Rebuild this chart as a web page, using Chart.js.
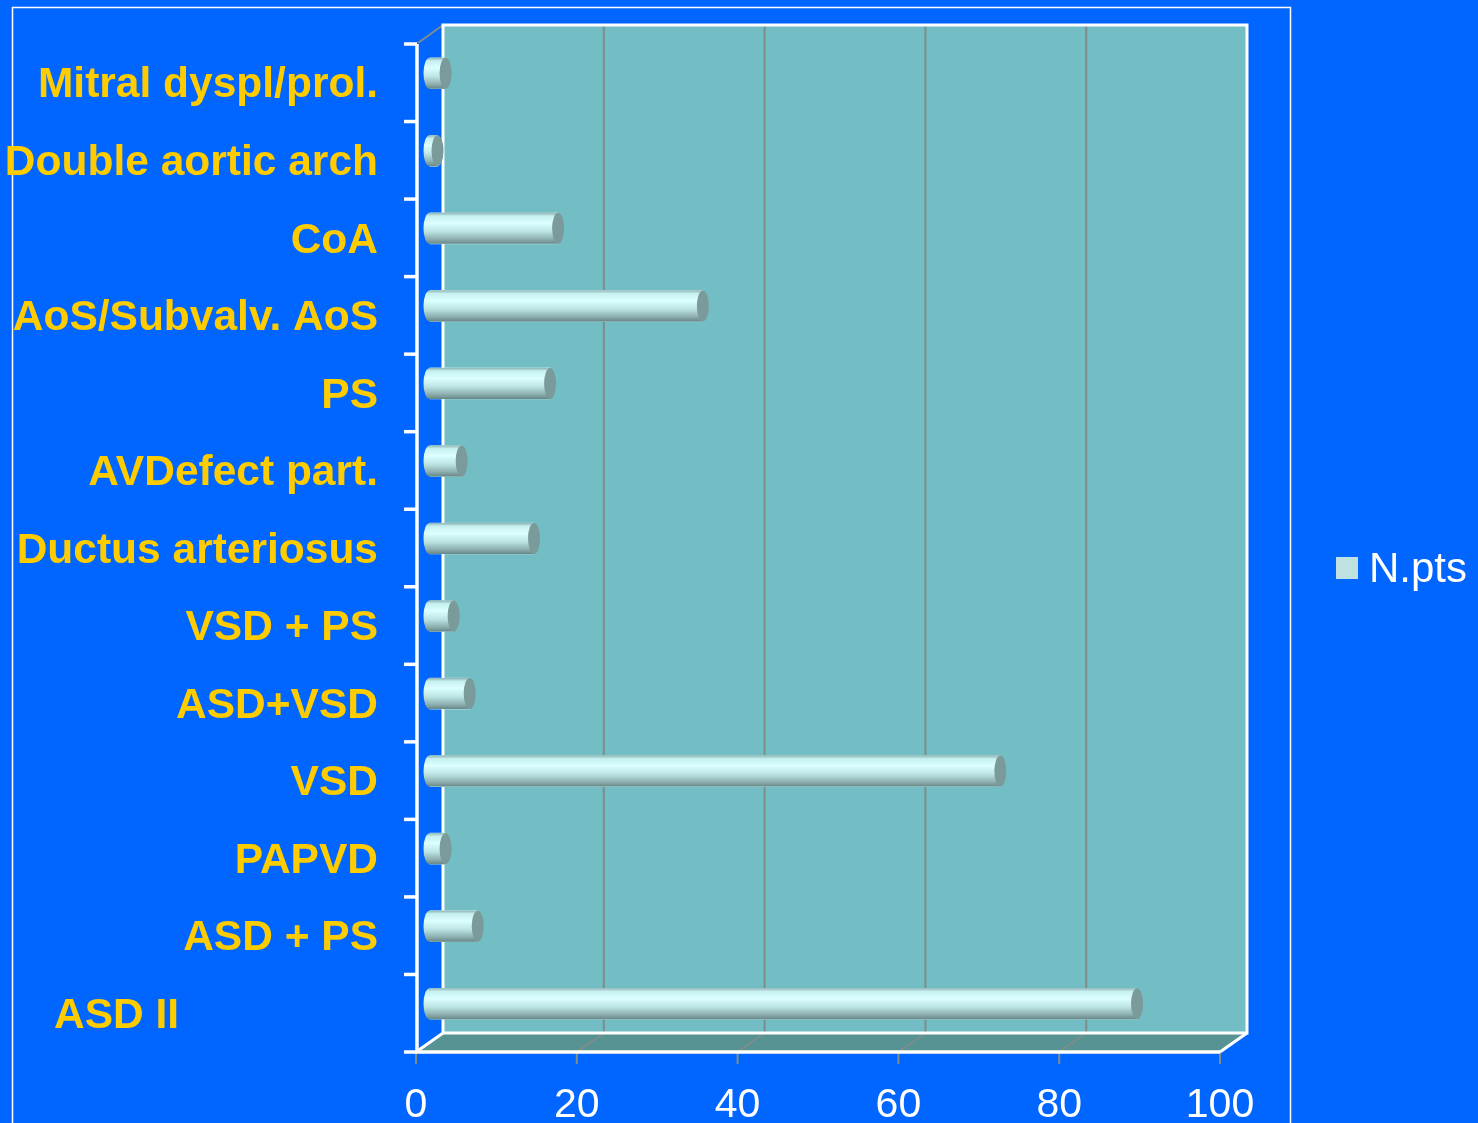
<!DOCTYPE html>
<html>
<head>
<meta charset="utf-8">
<title>N.pts by diagnosis</title>
<script src="https://cdn.jsdelivr.net/npm/chart.js@4/dist/chart.umd.min.js"></script>
<style>
  html, body { margin: 0; padding: 0; background: #0066FF; }
  canvas { display: block; }
</style>
</head>
<body>
<canvas id="c" width="1478" height="1123"></canvas>
<script>
// Diagnoses, top to bottom
const categories = [
  'Mitral dyspl/prol.',
  'Double aortic arch',
  'CoA',
  'AoS/Subvalv. AoS',
  'PS',
  'AVDefect part.',
  'Ductus arteriosus',
  'VSD + PS',
  'ASD+VSD',
  'VSD',
  'PAPVD',
  'ASD + PS',
  'ASD II'
];
// Number of patients per diagnosis
const nPts = [2, 1, 16, 34, 15, 4, 13, 3, 5, 71, 2, 6, 88];
const seriesName = 'N.pts';
const xTicks = [0, 20, 40, 60, 80, 100];

// Half of the 3D depth: front plane sits at (-DX, +DY) from the bars, back wall at (+DX, -DY)
const DX = 13.5, DY = 9.5;
const FONT = '"Liberation Sans", Arial, sans-serif';

function drawCylinder(ctx, x0, x1, yc, h) {
  const top = yc - h / 2, r = h / 2, rx = 6;
  const g = ctx.createLinearGradient(0, top, 0, top + h);
  g.addColorStop(0, '#8FB3B3');
  g.addColorStop(0.1, '#C6F0F0');
  g.addColorStop(0.33, '#DCFFFF');
  g.addColorStop(0.6, '#BDE4E4');
  g.addColorStop(0.85, '#8DAFAF');
  g.addColorStop(1, '#678787');
  ctx.beginPath();
  ctx.moveTo(x1, top);
  ctx.lineTo(x0, top);
  ctx.ellipse(x0, yc, rx, r, 0, -Math.PI / 2, Math.PI / 2, true);
  ctx.lineTo(x1, top + h);
  ctx.closePath();
  ctx.fillStyle = g;
  ctx.fill();
  // end face
  ctx.beginPath();
  ctx.ellipse(x1, yc, rx, r, 0, 0, Math.PI * 2);
  ctx.fillStyle = '#7B9B9B';
  ctx.fill();
}

const chart3d = {
  id: 'chart3d',
  beforeDraw(chart) {
    const ctx = chart.ctx;
    const xs = chart.scales.x, a = chart.chartArea;
    ctx.save();
    ctx.fillStyle = '#0066FF';
    ctx.fillRect(0, 0, chart.width, chart.height);
    // slide frame
    ctx.strokeStyle = '#FFFFFF';
    ctx.lineWidth = 1.5;
    ctx.strokeRect(12.5, 7.5, 1278, 1200);

    const x0 = xs.getPixelForValue(xs.min), x1 = xs.getPixelForValue(xs.max);
    const bL = x0 + DX, bR = x1 + DX, bT = a.top - DY, bB = a.bottom - DY;
    const fL = x0 - DX, fR = x1 - DX, fB = a.bottom + DY, fT = a.top + DY;

    // back wall
    ctx.fillStyle = '#72BEC4';
    ctx.fillRect(bL, bT, bR - bL, bB - bT);
    // floor
    ctx.fillStyle = '#579393';
    ctx.beginPath();
    ctx.moveTo(fL, fB); ctx.lineTo(bL, bB); ctx.lineTo(bR, bB); ctx.lineTo(fR, fB);
    ctx.closePath(); ctx.fill();

    // gridlines on wall and floor
    ctx.strokeStyle = '#7F8C8C';
    ctx.lineWidth = 2;
    xTicks.forEach(t => {
      const px = xs.getPixelForValue(t);
      if (t !== xs.min && t !== xs.max) {
        ctx.beginPath(); ctx.moveTo(px + DX, bT); ctx.lineTo(px + DX, bB); ctx.stroke();
        ctx.beginPath(); ctx.moveTo(px + DX, bB); ctx.lineTo(px - DX, fB); ctx.stroke();
      }
      // small tick under the front edge
      ctx.beginPath(); ctx.moveTo(px - DX, fB); ctx.lineTo(px - DX, fB + 12); ctx.stroke();
    });
    // top-left depth edge
    ctx.beginPath(); ctx.moveTo(fL + 2, fT - 1); ctx.lineTo(bL, bT); ctx.stroke();

    // white wall edges
    ctx.strokeStyle = '#FFFFFF';
    ctx.lineWidth = 3;
    ctx.beginPath();
    ctx.moveTo(bL, bB); ctx.lineTo(bL, bT); ctx.lineTo(bR, bT); ctx.lineTo(bR, bB); ctx.lineTo(bL, bB);
    ctx.stroke();
    ctx.beginPath();
    ctx.moveTo(fL, fB); ctx.lineTo(bL, bB);
    ctx.moveTo(fR, fB); ctx.lineTo(bR, bB);
    ctx.stroke();
    ctx.restore();
  },
  afterDatasetsDraw(chart) {
    const ctx = chart.ctx;
    const meta = chart.getDatasetMeta(0);
    ctx.save();
    meta.data.forEach(el => {
      const p = el.getProps(['x', 'y', 'base', 'height'], true);
      drawCylinder(ctx, p.base, p.x, p.y, p.height);
    });
    ctx.restore();
  },
  afterDraw(chart) {
    const ctx = chart.ctx;
    const xs = chart.scales.x, ys = chart.scales.y, a = chart.chartArea;
    const fL = xs.getPixelForValue(xs.min) - DX, fR = xs.getPixelForValue(xs.max) - DX;
    const fT = a.top + DY, fB = a.bottom + DY;
    ctx.save();
    // front axes
    ctx.strokeStyle = '#FFFFFF';
    ctx.lineWidth = 3.5;
    ctx.beginPath();
    ctx.moveTo(fL + 1, fT); ctx.lineTo(fL + 1, fB); ctx.lineTo(fR, fB);
    ctx.stroke();
    const step = (a.bottom - a.top) / categories.length;
    for (let i = 0; i <= categories.length; i++) {
      const py = a.top + i * step + DY;
      ctx.beginPath(); ctx.moveTo(fL - 12, py); ctx.lineTo(fL + 1, py); ctx.stroke();
    }

    // category labels
    ctx.fillStyle = '#FFCC00';
    ctx.font = 'bold 42.5px ' + FONT;
    ctx.textBaseline = 'middle';
    categories.forEach((c, i) => {
      const py = ys.getPixelForValue(i) + DY + 3;
      if (i === categories.length - 1) {
        ctx.textAlign = 'left';
        ctx.fillText(c, 54, py);
      } else {
        ctx.textAlign = 'right';
        ctx.fillText(c, fL - 38, py);
      }
    });

    // value axis labels
    ctx.fillStyle = '#FFFFFF';
    ctx.font = '41px ' + FONT;
    ctx.textAlign = 'center';
    ctx.textBaseline = 'alphabetic';
    xTicks.forEach(t => {
      ctx.fillText(String(t), xs.getPixelForValue(t) - DX, 1117);
    });

    // legend
    ctx.fillStyle = '#BEE2E2';
    ctx.fillRect(1336, 557, 22, 22);
    ctx.fillStyle = '#FFFFFF';
    ctx.font = '42px ' + FONT;
    ctx.textAlign = 'left';
    ctx.textBaseline = 'alphabetic';
    ctx.fillText(seriesName, 1369, 582);
    ctx.restore();
  }
};

new Chart(document.getElementById('c'), {
  type: 'bar',
  data: {
    labels: categories,
    datasets: [{
      label: seriesName,
      data: nPts,
      backgroundColor: '#BEE2E2',
      borderWidth: 0,
      barThickness: 31
    }]
  },
  options: {
    indexAxis: 'y',
    responsive: false,
    animation: false,
    devicePixelRatio: 1,
    layout: { padding: { left: 429.5, right: 244.5, top: 34.5, bottom: 80.5 } },
    scales: {
      x: { type: 'linear', min: 0, max: 100, display: false },
      y: { type: 'category', display: false, offset: true }
    },
    plugins: {
      legend: { display: false },
      tooltip: { enabled: false }
    }
  },
  plugins: [chart3d]
});
</script>
</body>
</html>
